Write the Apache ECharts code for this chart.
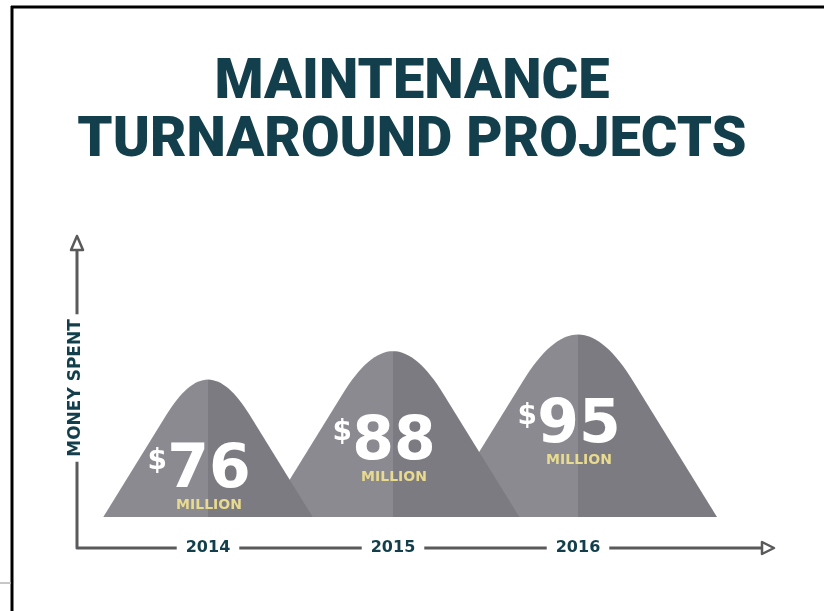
<!DOCTYPE html>
<html>
<head>
<meta charset="utf-8">
<title>Maintenance Turnaround Projects</title>
<script src="https://cdn.jsdelivr.net/npm/echarts@6/dist/echarts.min.js"></script>
<style>
  html, body { margin: 0; padding: 0; background: #fff; }
  #chart { width: 824px; height: 611px; }
</style>
</head>
<body>
<div id="chart"></div>
<script>
// values ($ million)
const years = ['2014', '2015', '2016']
const spent = [76, 88, 95]
const unitText = 'MILLION'
const yName = 'MONEY SPENT'

const teal = '#123f4b'
const axisGrey = '#5a5a5c'
const lightGrey = '#8a8a90'
const darkGrey = '#7c7b81'
const gold = '#e8da8e'

// value that sits on the mountains' base line
const yMin = 18

const lerp = (a, b, t) => [a[0] + (b[0] - a[0]) * t, a[1] + (b[1] - a[1]) * t]
const bezier = (p0, p1, p2, p3, t) => {
  const a = lerp(p0, p1, t), b = lerp(p1, p2, t), c = lerp(p2, p3, t)
  return lerp(lerp(a, b, t), lerp(b, c, t), t)
}

// mountain: straight slopes with a rounded cap, left half light, right half dark
const renderMountain = (params, api) => {
  const i = api.value(0)
  const base = api.coord([i, yMin])
  const peak = api.coord([i, api.value(1)])
  const cx = base[0]
  const by = base[1]
  const w = (by - peak[1]) / 1.313
  const slope = 1.62
  const apex = by - slope * w
  const a = 0.4 * w
  const b = 0.3 * a
  const p0 = [cx - a, apex + slope * a]
  const p1 = [cx - b, apex + slope * b]
  const p2 = [cx + b, apex + slope * b]
  const p3 = [cx + a, apex + slope * a]
  const left = [[cx - w, by]]
  const right = [[cx, by]]
  for (let k = 0; k <= 16; k++) left.push(bezier(p0, p1, p2, p3, k / 32))
  for (let k = 16; k <= 32; k++) right.push(bezier(p0, p1, p2, p3, k / 32))
  left.push([cx, by])
  right.push([cx + w, by])
  const z = 30 - params.dataIndex * 10
  const ny = peak[1] + 92
  return {
    type: 'group',
    children: [
      { type: 'polygon', z2: z, shape: { points: left }, style: { fill: lightGrey } },
      { type: 'polygon', z2: z, shape: { points: right }, style: { fill: darkGrey } },
      {
        type: 'text', z2: 100,
        style: {
          text: String(api.value(1)), x: cx + 1, y: ny, fill: '#fff',
          font: 'bold 60px "DejaVu Sans"', align: 'center', verticalAlign: 'middle'
        }
      },
      {
        type: 'text', z2: 100,
        style: {
          text: '$', x: cx - 41, y: ny - 24, fill: '#fff',
          font: 'bold 28px "DejaVu Sans"', align: 'right', verticalAlign: 'top'
        }
      },
      {
        type: 'text', z2: 100,
        style: {
          text: unitText, x: cx + 1, y: ny + 34, fill: gold,
          font: 'bold 14px "DejaVu Sans"', align: 'center', verticalAlign: 'middle'
        }
      }
    ]
  }
}

const chart = echarts.init(document.getElementById('chart'))

chart.setOption({
  backgroundColor: '#fff',
  animation: false,
  title: {
    text: 'MAINTENANCE\nTURNAROUND PROJECTS',
    left: 'center',
    top: 50,
    padding: [5, 25, 5, 5],
    textStyle: {
      color: teal,
      fontFamily: 'Roboto',
      fontWeight: 900,
      fontSize: 56,
      lineHeight: 58
    }
  },
  grid: { left: 115.5, right: 153.5, top: 232.6, bottom: 94 },
  xAxis: {
    type: 'category',
    data: years,
    z: 10,
    offset: 31,
    axisLine: { show: false },
    axisTick: { show: false },
    axisLabel: {
      margin: 0,
      verticalAlign: 'middle',
      color: teal,
      fontFamily: 'DejaVu Sans',
      fontWeight: 'bold',
      fontSize: 16,
      backgroundColor: '#fff',
      padding: [2, 9]
    }
  },
  yAxis: {
    type: 'value',
    min: yMin,
    max: 138,
    show: false
  },
  graphic: [
    // frame
    { type: 'line', z: 1, shape: { x1: 11, y1: 7, x2: 824, y2: 7 }, style: { stroke: '#000', lineWidth: 3 } },
    { type: 'line', z: 1, shape: { x1: 12, y1: 6, x2: 12, y2: 611 }, style: { stroke: '#000', lineWidth: 3 } },
    { type: 'line', z: 1, shape: { x1: 0, y1: 583, x2: 11, y2: 583 }, style: { stroke: '#b4b4b4', lineWidth: 1.5 } },
    // axes with hollow arrow heads
    {
      type: 'polyline', z: 1,
      shape: { points: [[77, 250], [77, 548], [762, 548]] },
      style: { stroke: axisGrey, lineWidth: 3, lineJoin: 'round', fill: null }
    },
    {
      type: 'polygon', z: 1,
      shape: { points: [[77, 236], [71, 250], [83, 250]] },
      style: { stroke: axisGrey, lineWidth: 2.5, fill: '#fff', lineJoin: 'round' }
    },
    {
      type: 'polygon', z: 1,
      shape: { points: [[774, 548], [762, 542], [762, 554]] },
      style: { stroke: axisGrey, lineWidth: 2.5, fill: '#fff', lineJoin: 'round' }
    },
    {
      type: 'text', z: 2, x: 75.5, y: 388, rotation: Math.PI / 2,
      style: {
        text: yName, fill: teal, font: 'bold 17px "DejaVu Sans"',
        align: 'center', verticalAlign: 'middle',
        backgroundColor: '#fff', padding: [0, 5]
      }
    }
  ],
  series: [{
    type: 'custom',
    renderItem: renderMountain,
    data: spent.map((v, i) => [i, v]),
    encode: { x: 0, y: 1 }
  }]
})
</script>
</body>
</html>
